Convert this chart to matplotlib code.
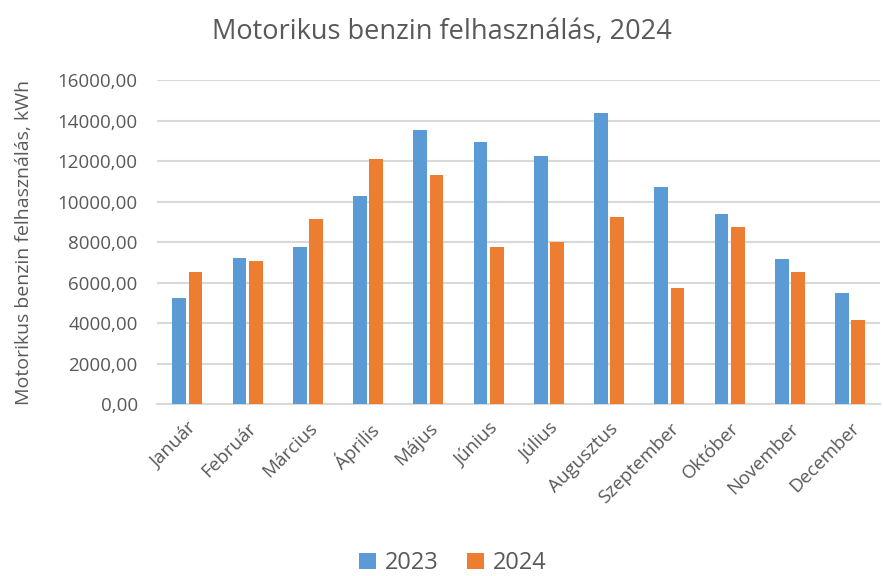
import matplotlib
matplotlib.use("Agg")
import matplotlib.pyplot as plt
import numpy as np
from matplotlib.ticker import FuncFormatter

months = ["Január", "Február", "Március", "Április", "Május", "Június",
          "Július", "Augusztus", "Szeptember", "Október", "November", "December"]
values_2023 = [5220, 7220, 7740, 10270, 13510, 12920, 12230, 14390, 10720, 9380, 7160, 5470]
values_2024 = [6530, 7050, 9140, 12110, 11290, 7740, 8000, 9250, 5710, 8760, 6530, 4130]
series_names = ["2023", "2024"]
yticks = [0, 2000, 4000, 6000, 8000, 10000, 12000, 14000, 16000]

plt.rcParams['font.family'] = ['Open Sans', 'DejaVu Sans']
gray = "#595959"

fig = plt.figure(figsize=(8.83, 5.76), dpi=100)
ax = fig.add_axes([0.178, 0.2986, 0.819, 0.5625])

x = np.arange(len(months))
w = 0.23
off = 0.135
ax.bar(x - off, values_2023, w, color="#5B9BD5", label=series_names[0], zorder=3)
ax.bar(x + off, values_2024, w, color="#ED7D31", label=series_names[1], zorder=3)

ax.set_xlim(-0.5, len(months) - 0.5)
ax.set_ylim(0, 16000)
ax.set_yticks(yticks)
ax.yaxis.set_major_formatter(FuncFormatter(lambda v, p: f"{v:.2f}".replace(".", ",")))
ax.grid(axis="y", color="#d9d9d9", linewidth=1.5, zorder=0)
for s in ["top", "right", "left"]:
    ax.spines[s].set_visible(False)
ax.spines["bottom"].set_color("#d9d9d9")
ax.spines["bottom"].set_linewidth(1.5)
ax.tick_params(axis="y", length=0, pad=14, labelsize=13.5, labelcolor=gray)
ax.tick_params(axis="x", length=0, pad=11, labelsize=13.5, labelcolor=gray)
ax.set_xticks(x)
ax.set_xticklabels(months, rotation=45, ha="right", rotation_mode="anchor")

ax.set_ylabel("Motorikus benzin felhasználás, kWh", fontsize=14, color=gray, labelpad=18)
fig.text(0.5, 0.945, "Motorikus benzin felhasználás, 2024", ha="center", va="center",
         fontsize=19.5, color=gray)

leg = fig.legend(loc="center", bbox_to_anchor=(0.513, 0.022), ncol=2, frameon=False,
                 fontsize=17, labelcolor=gray, handlelength=0.7, handleheight=0.7,
                 columnspacing=1.2, handletextpad=0.4)

fig.savefig("out.png", dpi=100)
